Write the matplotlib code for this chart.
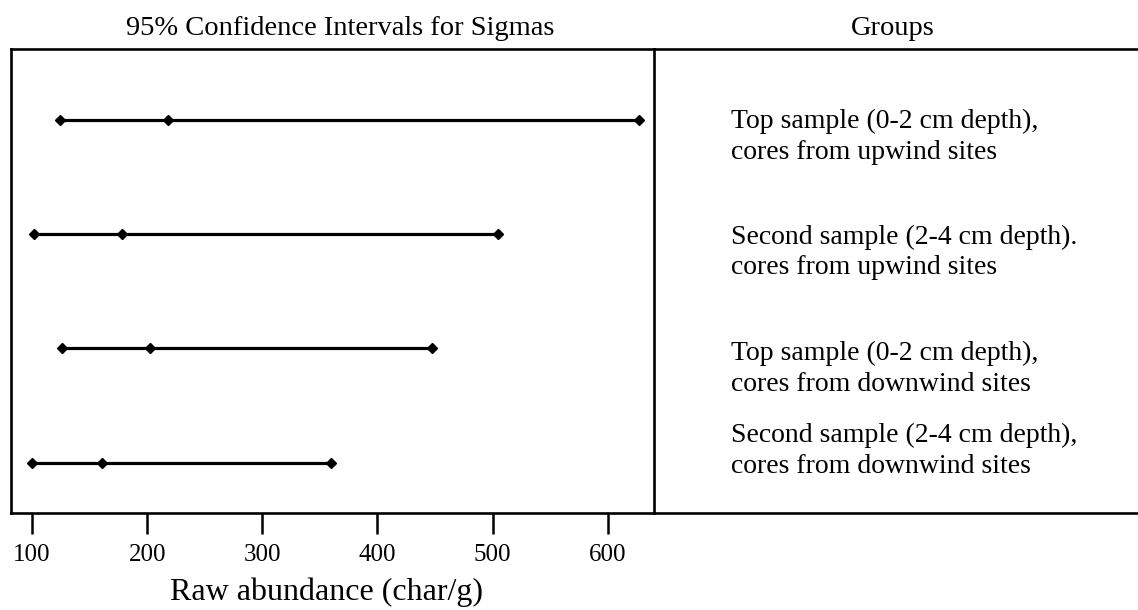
import matplotlib
matplotlib.use("Agg")
import matplotlib.pyplot as plt

# 95% confidence intervals for sigma, one row per group (top to bottom)
groups = [
    "Top sample (0-2 cm depth),\ncores from upwind sites",
    "Second sample (2-4 cm depth).\ncores from upwind sites",
    "Top sample (0-2 cm depth),\ncores from downwind sites",
    "Second sample (2-4 cm depth),\ncores from downwind sites",
]
lower = [124, 102, 126, 100]
estimate = [218, 178, 202, 161]
upper = [627, 505, 447, 360]
xticks = [100, 200, 300, 400, 500, 600]

plt.rcParams["font.family"] = ["Liberation Serif", "DejaVu Serif"]

W, H = 1138, 610
fig = plt.figure(figsize=(W / 100, H / 100), dpi=100)
fig.patch.set_facecolor("white")

box_top, box_bot = 49, 513
left_px, split_px = 11, 654
ax2 = fig.add_axes([split_px / W, (H - box_bot) / H, (W - split_px + 10) / W,
                    (box_bot - box_top) / H])
ax = fig.add_axes([left_px / W, (H - box_bot) / H, (split_px - left_px) / W,
                   (box_bot - box_top) / H])
ax2.patch.set_visible(False)
ax.patch.set_visible(False)

n = len(groups)
ys = [n - i for i in range(n)]

for y, lo, est, hi in zip(ys, lower, estimate, upper):
    ax.plot([lo, hi], [y, y], color="black", lw=2.3, solid_capstyle="butt", zorder=2)
    ax.plot([lo, est, hi], [y, y, y], ls="none", marker="D", ms=5.2,
            color="black", zorder=3)

ax.set_xlim(81.7, 640.2)
ax.set_ylim(0.56, 4.62)
ax.set_xticks(xticks)
ax.set_xticklabels([str(t) for t in xticks], fontsize=18)
ax.set_yticks([])
ax.tick_params(axis="x", direction="out", length=15, width=1.8, pad=7)
for s in ax.spines.values():
    s.set_linewidth(1.9)
ax.set_title("95% Confidence Intervals for Sigmas", fontsize=20.5, pad=10, x=0.512)
ax.set_xlabel("Raw abundance (char/g)", fontsize=23, labelpad=2)
ax.xaxis.set_label_coords(0.49, -0.14)

# group labels in the right-hand panel (offset is for the last line's baseline)
ax2.set_ylim(ax.get_ylim())
ax2.set_xlim(0, 1)
ax2.set_xticks([])
ax2.set_yticks([])
for s in ax2.spines.values():
    s.set_linewidth(1.9)
ax2.spines["left"].set_visible(False)
ax2.set_title("Groups", fontsize=20.5, pad=10, x=(893 - split_px) / (W - split_px + 10))
label_offset_pts = [-28.0, -29.0, -30.5, -7.5]
for y, g, dy in zip(ys, groups, label_offset_pts):
    ax2.annotate(g, xy=(77 / (W - split_px + 10), y), xytext=(0, dy),
                 textcoords="offset points", fontsize=20, va="baseline",
                 ha="left", linespacing=1.3)

fig.savefig("out.png", dpi=100, facecolor="white")
